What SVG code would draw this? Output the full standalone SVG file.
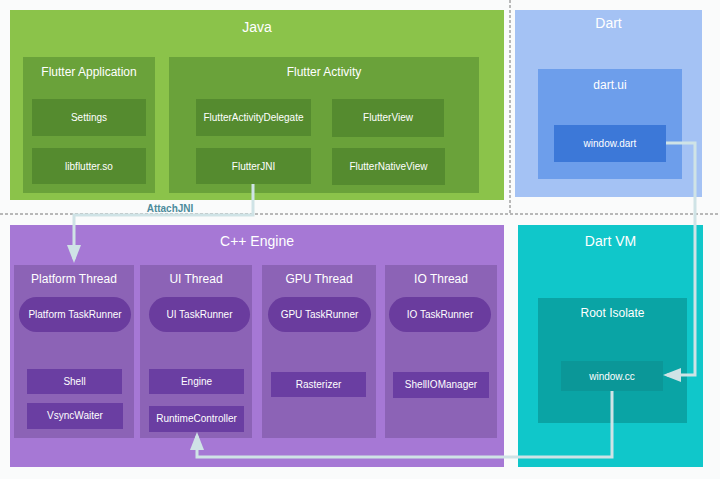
<svg xmlns="http://www.w3.org/2000/svg" width="720" height="479" viewBox="0 0 720 479">
<defs>
<style>
text{font-family:"Liberation Sans",Arial,sans-serif;fill:#ffffff;text-anchor:middle;}
.t1{font-size:14px;}
.t2{font-size:12px;}
.t3{font-size:10px;}
.lbl{font-size:10px;font-weight:bold;fill:#4c8b9b;}
.conn{fill:none;stroke:#cfe3e6;stroke-width:3;}
.dash{fill:none;stroke:#777;stroke-width:1;stroke-dasharray:3,2;}
</style>
<marker id="ah" markerUnits="userSpaceOnUse" markerWidth="18" markerHeight="14" refX="14" refY="7" orient="auto">
<path d="M0,0 L18,7 L0,14 z" fill="#cfe3e6"/>
</marker>
</defs>
<rect width="720" height="479" fill="#fafbfb"/>

<g id="separators">
<line class="dash" x1="0" y1="214" x2="720" y2="214"/>
<line class="dash" x1="510" y1="0" x2="510" y2="214"/>
</g>

<g id="java">
<rect x="10" y="10" width="494" height="190" fill="#8bc34a"/>
<text class="t1" x="257" y="32">Java</text>
</g>
<g id="flutter-application">
<rect x="23" y="57" width="132" height="136" fill="#6aa23a"/>
<text class="t2" x="89" y="76">Flutter Application</text>
</g>
<g id="settings"><rect x="32" y="99" width="114" height="37" fill="#558b2f"/><text class="t3" x="89" y="121">Settings</text></g>
<g id="libflutter"><rect x="32" y="148" width="114" height="36" fill="#558b2f"/><text class="t3" x="89" y="170">libflutter.so</text></g>
<g id="flutter-activity">
<rect x="169" y="57" width="310" height="136" fill="#6aa23a"/>
<text class="t2" x="324" y="76">Flutter Activity</text>
</g>
<g id="flutter-activity-delegate"><rect x="196" y="99" width="115" height="37" fill="#558b2f"/><text class="t3" x="253.5" y="121">FlutterActivityDelegate</text></g>
<g id="flutter-jni"><rect x="196" y="148" width="115" height="36" fill="#558b2f"/><text class="t3" x="253.5" y="170">FlutterJNI</text></g>
<g id="flutter-view"><rect x="332" y="99" width="112" height="38" fill="#558b2f"/><text class="t3" x="388" y="121">FlutterView</text></g>
<g id="flutter-native-view"><rect x="332" y="148" width="113" height="37" fill="#558b2f"/><text class="t3" x="388.5" y="170">FlutterNativeView</text></g>

<g id="dart">
<rect x="515" y="10" width="187" height="187" fill="#a4c2f4"/>
<text class="t1" x="608.5" y="28">Dart</text>
</g>
<g id="dart-ui">
<rect x="538" y="69" width="144" height="110" fill="#6d9eeb"/>
<text class="t2" x="610" y="89">dart.ui</text>
</g>
<g id="window-dart"><rect x="554" y="125" width="112" height="37" fill="#3c78d8"/><text class="t3" x="610" y="147">window.dart</text></g>

<g id="cpp-engine">
<rect x="10" y="225" width="494" height="242" fill="#a678d5"/>
<text class="t1" x="257" y="246">C++ Engine</text>
</g>
<g id="platform-thread">
<rect x="14" y="265" width="120" height="173" fill="#8c63b6"/>
<text class="t2" x="74" y="283">Platform Thread</text>
</g>
<g id="platform-taskrunner"><rect x="19" y="297" width="112" height="35" rx="17.5" fill="#6a3c9e"/><text class="t3" x="75" y="318">Platform TaskRunner</text></g>
<g id="shell"><rect x="27" y="369" width="95" height="25" fill="#6a3ea2"/><text class="t3" x="74.5" y="385">Shell</text></g>
<g id="vsync-waiter"><rect x="27" y="403" width="96" height="26" fill="#6a3ea2"/><text class="t3" x="75" y="419">VsyncWaiter</text></g>
<g id="ui-thread">
<rect x="140" y="265" width="112" height="173" fill="#8c63b6"/>
<text class="t2" x="196" y="283">UI Thread</text>
</g>
<g id="ui-taskrunner"><rect x="149" y="297" width="101" height="35" rx="17.5" fill="#6a3c9e"/><text class="t3" x="199.5" y="318">UI TaskRunner</text></g>
<g id="engine"><rect x="149" y="369" width="95" height="25" fill="#6a3ea2"/><text class="t3" x="196.5" y="385">Engine</text></g>
<g id="runtime-controller"><rect x="149" y="406" width="95" height="26" fill="#6a3ea2"/><text class="t3" x="196.5" y="422">RuntimeController</text></g>
<g id="gpu-thread">
<rect x="262" y="265" width="114" height="173" fill="#8c63b6"/>
<text class="t2" x="319" y="283">GPU Thread</text>
</g>
<g id="gpu-taskrunner"><rect x="268" y="297" width="103" height="35" rx="17.5" fill="#6a3c9e"/><text class="t3" x="319.5" y="318">GPU TaskRunner</text></g>
<g id="rasterizer"><rect x="271" y="372" width="95" height="25" fill="#6a3ea2"/><text class="t3" x="318.5" y="388">Rasterizer</text></g>
<g id="io-thread">
<rect x="385" y="265" width="112" height="173" fill="#8c63b6"/>
<text class="t2" x="441" y="283">IO Thread</text>
</g>
<g id="io-taskrunner"><rect x="389" y="297" width="102" height="35" rx="17.5" fill="#6a3c9e"/><text class="t3" x="440" y="318">IO TaskRunner</text></g>
<g id="shell-io-manager"><rect x="393" y="372" width="96" height="26" fill="#6a3ea2"/><text class="t3" x="441" y="388">ShellIOManager</text></g>

<g id="dart-vm">
<rect x="518" y="225" width="185" height="242" fill="#10c7ca"/>
<text class="t1" x="610.5" y="246">Dart VM</text>
</g>
<g id="root-isolate">
<rect x="538" y="298" width="149" height="125" fill="#0aa4a5"/>
<text class="t2" x="612.5" y="317">Root Isolate</text>
</g>
<g id="window-cc"><rect x="561" y="361" width="102" height="30" fill="#0b9798"/><text class="t3" x="612" y="380">window.cc</text></g>

<g id="connectors">
<polyline class="conn" points="253,184 253,215 74,215 74,259" marker-end="url(#ah)"/>
<text class="lbl" x="170" y="212">AttachJNI</text>
<polyline class="conn" points="666,143 695,143 695,375 667,375" marker-end="url(#ah)"/>
<polyline class="conn" points="612,391 612,457 197,457 197,436" marker-end="url(#ah)"/>
</g>
</svg>
